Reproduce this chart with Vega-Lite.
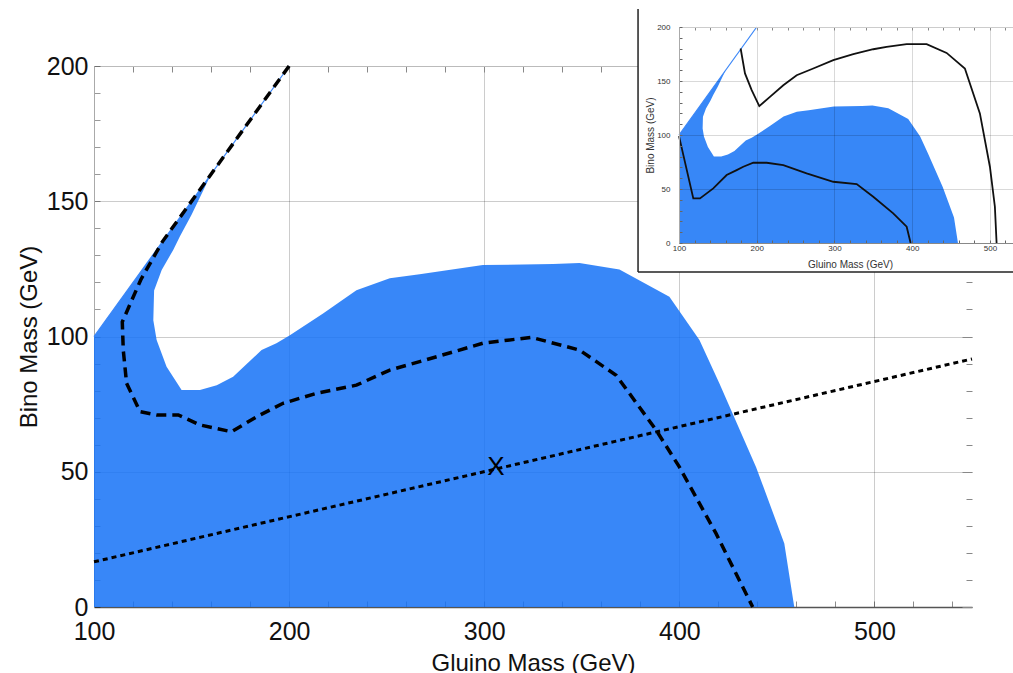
{
  "$schema": "https://vega.github.io/schema/vega-lite/v6.json",
  "width": 878,
  "height": 541,
  "autosize": {"type": "none"},
  "padding": {"left": 94, "top": 66, "right": 41, "bottom": 66},
  "background": "white",
  "config": {"view": {"stroke": null}, "font": "Liberation Sans"},
  "datasets": {
    "blue": [
      {"i": 1, "x": 100, "y": 0}, {"i": 2, "x": 100, "y": 100}, {"i": 3, "x": 160, "y": 160},
      {"i": 4, "x": 150, "y": 145}, {"i": 5, "x": 144, "y": 137}, {"i": 6, "x": 140.6, "y": 132},
      {"i": 7, "x": 134.7, "y": 124.6}, {"i": 8, "x": 130.8, "y": 117}, {"i": 9, "x": 130.4, "y": 106},
      {"i": 10, "x": 132.1, "y": 98.7}, {"i": 11, "x": 137.2, "y": 88.8}, {"i": 12, "x": 144.9, "y": 80.2},
      {"i": 13, "x": 154.3, "y": 80.2}, {"i": 14, "x": 162.9, "y": 82}, {"i": 15, "x": 171.3, "y": 85.1},
      {"i": 16, "x": 185.9, "y": 95}, {"i": 17, "x": 193.5, "y": 97.5}, {"i": 18, "x": 200.4, "y": 100.5},
      {"i": 19, "x": 217.4, "y": 108.5}, {"i": 20, "x": 234.5, "y": 117.1}, {"i": 21, "x": 251.6, "y": 121.5},
      {"i": 22, "x": 266.9, "y": 123}, {"i": 23, "x": 299.3, "y": 126.4}, {"i": 24, "x": 335.4, "y": 126.8},
      {"i": 25, "x": 348.8, "y": 127.2}, {"i": 26, "x": 369.3, "y": 124.8}, {"i": 27, "x": 394.9, "y": 114.7},
      {"i": 28, "x": 410.3, "y": 98.7}, {"i": 29, "x": 420.5, "y": 82.7}, {"i": 30, "x": 439.3, "y": 51.8},
      {"i": 31, "x": 453.8, "y": 23.5}, {"i": 32, "x": 458.9, "y": 0}
    ],
    "diag": [{"x": 100, "y": 100}, {"x": 200, "y": 200}],
    "dashed": [
      {"i": 1, "x": 200, "y": 200}, {"i": 2, "x": 135, "y": 135}, {"i": 3, "x": 124, "y": 121},
      {"i": 4, "x": 114.5, "y": 105.4}, {"i": 5, "x": 115, "y": 95}, {"i": 6, "x": 116.7, "y": 82.7},
      {"i": 7, "x": 123.6, "y": 72.2}, {"i": 8, "x": 132.1, "y": 71}, {"i": 9, "x": 143.2, "y": 71},
      {"i": 10, "x": 154.3, "y": 67.3}, {"i": 11, "x": 170.5, "y": 64.8}, {"i": 12, "x": 183.3, "y": 70.3},
      {"i": 13, "x": 196.9, "y": 75.3}, {"i": 14, "x": 214, "y": 79}, {"i": 15, "x": 234.5, "y": 82},
      {"i": 16, "x": 251.6, "y": 87.6}, {"i": 17, "x": 266.9, "y": 90.7}, {"i": 18, "x": 299.3, "y": 97.5},
      {"i": 19, "x": 324.1, "y": 99.7}, {"i": 20, "x": 348.8, "y": 95}, {"i": 21, "x": 367.6, "y": 85.7},
      {"i": 22, "x": 388.1, "y": 65.4}, {"i": 23, "x": 400, "y": 51.8}, {"i": 24, "x": 418.8, "y": 27.2},
      {"i": 25, "x": 437.6, "y": 0}
    ],
    "dotted": [{"x": 100, "y": 16.7}, {"x": 550, "y": 91.7}],
    "xmark": [{"x": 306, "y": 51.6, "label": "X"}],
    "insetUpper": [
      {"i": 1, "x": 179.3, "y": 180.1}, {"i": 2, "x": 184.9, "y": 157}, {"i": 3, "x": 193.5, "y": 141.5},
      {"i": 4, "x": 203.3, "y": 126.7}, {"i": 5, "x": 217, "y": 135.3}, {"i": 6, "x": 234.2, "y": 146.1},
      {"i": 7, "x": 251.4, "y": 155.4}, {"i": 8, "x": 272.7, "y": 161.6}, {"i": 9, "x": 298.5, "y": 169.3},
      {"i": 10, "x": 324.2, "y": 174.8}, {"i": 11, "x": 349.9, "y": 179.4}, {"i": 12, "x": 367.1, "y": 181.6},
      {"i": 13, "x": 392.9, "y": 184.1}, {"i": 14, "x": 418.6, "y": 184.1}, {"i": 15, "x": 444.3, "y": 176},
      {"i": 16, "x": 467.8, "y": 161.6}, {"i": 17, "x": 487.1, "y": 120}, {"i": 18, "x": 500, "y": 70.6},
      {"i": 19, "x": 506.4, "y": 33.6}, {"i": 20, "x": 508.6, "y": 0}
    ],
    "insetLower": [
      {"i": 1, "x": 100, "y": 99}, {"i": 2, "x": 118.4, "y": 41.3}, {"i": 3, "x": 127, "y": 41.3},
      {"i": 4, "x": 144.1, "y": 50.6}, {"i": 5, "x": 161.3, "y": 62.9}, {"i": 6, "x": 174.2, "y": 67.5},
      {"i": 7, "x": 182.7, "y": 70.6}, {"i": 8, "x": 195.6, "y": 74.3}, {"i": 9, "x": 212.8, "y": 74.3},
      {"i": 10, "x": 234.2, "y": 72.1}, {"i": 11, "x": 264.2, "y": 64.5}, {"i": 12, "x": 298.5, "y": 56.7},
      {"i": 13, "x": 328.6, "y": 54.6}, {"i": 14, "x": 349.9, "y": 42.8}, {"i": 15, "x": 375.6, "y": 27.5},
      {"i": 16, "x": 392.9, "y": 15.1}, {"i": 17, "x": 398, "y": 0}
    ],
    "one": [{}]
  },
  "layer": [
    {
      "layer": [
        {
          "data": {"name": "blue"},
          "mark": {"type": "line", "fill": "#1572F7", "fillOpacity": 0.85, "strokeWidth": 0},
          "encoding": {
            "x": {"field": "x", "type": "quantitative",
              "scale": {"domain": [100, 550], "nice": false, "zero": false},
              "axis": {"orient": "bottom", "values": [100,120,140,160,180,200,220,240,260,280,300,320,340,360,380,400,420,440,460,480,500,520,540],
                "labelExpr": "datum.value % 100 === 0 ? datum.label : ''", "labelFontSize": 25, "labelFont": "Liberation Sans", "labelColor": "#111",
                "labelPadding": 18, "labelFlush": false, "labelOverlap": false, "tickSize": -6, "tickColor": "#000", "tickOpacity": 0.45,
                "domainColor": "#555", "domainWidth": 1.5, "grid": true, "gridColor": "#000",
                "gridOpacity": {"condition": {"test": "datum.value % 100 === 0", "value": 0.2}, "value": 0},
                "title": "Gluino Mass (GeV)", "titleFontSize": 24, "titleFont": "Liberation Sans", "titleFontWeight": "normal", "titleColor": "#111", "titlePadding": 7, "zindex": 0}},
            "y": {"field": "y", "type": "quantitative",
              "scale": {"domain": [0, 200], "nice": false, "zero": false},
              "axis": {"orient": "left", "values": [0,10,20,30,40,50,60,70,80,90,100,110,120,130,140,150,160,170,180,190,200],
                "labelExpr": "datum.value % 50 === 0 ? datum.label : ''", "labelFontSize": 25, "labelFont": "Liberation Sans", "labelColor": "#111",
                "labelPadding": 12, "labelOverlap": false, "labelFlush": false, "tickSize": -6, "tickColor": "#000", "tickOpacity": 0.4,
                "domainColor": "#aaa", "domainWidth": 1, "grid": true, "gridColor": "#000",
                "gridOpacity": {"condition": {"test": "datum.value % 50 === 0", "value": 0.2}, "value": 0},
                "title": "Bino Mass (GeV)", "titleFontSize": 24, "titleFont": "Liberation Sans", "titleFontWeight": "normal", "titleColor": "#111", "titlePadding": 5, "zindex": 0}},
            "order": {"field": "i", "type": "quantitative"}
          }
        },
        {
          "data": {"name": "diag"},
          "mark": {"type": "line", "color": "#3a86f7", "strokeWidth": 1.2},
          "encoding": {
            "x": {"field": "x", "type": "quantitative", "axis": null},
            "y": {"field": "y", "type": "quantitative", "axis": null}
          }
        },
        {
          "data": {"name": "dashed"},
          "mark": {"type": "line", "color": "#000", "strokeWidth": 3.5, "strokeDash": [10, 6]},
          "encoding": {
            "x": {"field": "x", "type": "quantitative",
              "axis": {"orient": "top", "values": [100,120,140,160,180,200,220,240,260,280,300,320,340,360,380,400,420,440,460,480,500,520,540],
                "labels": false, "grid": false, "tickSize": -6, "tickColor": "#888", "domainColor": "#bbb", "title": null, "zindex": 0}},
            "y": {"field": "y", "type": "quantitative",
              "axis": {"orient": "right", "values": [0,10,20,30,40,50,60,70,80,90,100,110,120,130,140,150,160,170,180,190,200],
                "labels": false, "grid": false, "domain": false,
                "tickSize": {"condition": {"test": "datum.value % 50 === 0", "value": -10}, "value": -6},
                "tickColor": "#888", "title": null, "zindex": 0}},
            "order": {"field": "i", "type": "quantitative"}
          }
        },
        {
          "data": {"name": "dotted"},
          "mark": {"type": "line", "color": "#000", "strokeWidth": 3, "strokeDash": [5, 4]},
          "encoding": {
            "x": {"field": "x", "type": "quantitative", "axis": null},
            "y": {"field": "y", "type": "quantitative", "axis": null}
          }
        },
        {
          "data": {"name": "xmark"},
          "mark": {"type": "text", "fontSize": 26, "font": "Liberation Sans", "align": "center", "baseline": "middle", "color": "#000"},
          "encoding": {
            "x": {"field": "x", "type": "quantitative", "axis": null},
            "y": {"field": "y", "type": "quantitative", "axis": null},
            "text": {"field": "label"}
          }
        }
      ],
      "resolve": {"axis": {"x": "independent", "y": "independent"}}
    },
    {
      "layer": [
        {
          "data": {"name": "one"},
          "mark": {"type": "rect", "fill": "white", "strokeWidth": 0},
          "encoding": {
            "x": {"datum": 47.3, "type": "quantitative", "axis": null},
            "x2": {"datum": 580},
            "y": {"datum": -26.9, "type": "quantitative", "axis": null},
            "y2": {"datum": 216.7}
          }
        },
        {
          "data": {"name": "one"},
          "mark": {"type": "rule", "color": "#222", "strokeWidth": 1.5},
          "encoding": {
            "x": {"datum": 47.3, "type": "quantitative", "axis": null},
            "y": {"datum": -26.9, "type": "quantitative", "axis": null},
            "y2": {"datum": 216.7}
          }
        },
        {
          "data": {"name": "one"},
          "mark": {"type": "rule", "color": "#222", "strokeWidth": 1.5},
          "encoding": {
            "x": {"datum": 47.3, "type": "quantitative", "axis": null},
            "x2": {"datum": 580},
            "y": {"datum": -26.9, "type": "quantitative", "axis": null}
          }
        },
        {
          "data": {"name": "blue"},
          "mark": {"type": "line", "fill": "#3787F7", "strokeWidth": 0},
          "encoding": {
            "x": {"field": "x", "type": "quantitative",
              "scale": {"domain": [100, 540], "range": [585, 927], "nice": false, "zero": false},
              "axis": {"orient": "bottom", "offset": -364, "zindex": 1,
                "values": [100,120,140,160,180,200,220,240,260,280,300,320,340,360,380,400,420,440,460,480,500,520,540],
                "labelExpr": "datum.value % 100 === 0 ? datum.label : ''", "labelFontSize": 8, "labelColor": "#333", "labelPadding": 4,
                "labelFlush": false, "labelOverlap": false, "tickSize": -3, "tickColor": "#666", "domainColor": "#888", "grid": false,
                "title": "Gluino Mass (GeV)", "titleFontSize": 10, "titleFontWeight": "normal", "titleColor": "#333", "titlePadding": 7}},
            "y": {"field": "y", "type": "quantitative",
              "scale": {"domain": [0, 200], "range": [177, -39], "nice": false, "zero": false},
              "axis": {"orient": "left", "offset": -585, "zindex": 1,
                "values": [0,10,20,30,40,50,60,70,80,90,100,110,120,130,140,150,160,170,180,190,200],
                "labelExpr": "datum.value % 50 === 0 ? datum.label : ''", "labelFontSize": 8, "labelColor": "#333", "labelPadding": 12,
                "labelFlush": false, "labelOverlap": false, "tickSize": -3, "tickColor": "#666", "domainColor": "#aaa",
                "grid": true, "gridColor": "#000", "gridOpacity": {"condition": {"test": "datum.value % 50 === 0", "value": 0.15}, "value": 0},
                "title": "Bino Mass (GeV)", "titleFontSize": 10, "titleFontWeight": "normal", "titleColor": "#333", "titlePadding": 1}},
            "order": {"field": "i", "type": "quantitative"}
          }
        },
        {
          "data": {"name": "diag"},
          "mark": {"type": "line", "color": "#3a86f7", "strokeWidth": 1.2},
          "encoding": {
            "x": {"field": "x", "type": "quantitative", "axis": null},
            "y": {"field": "y", "type": "quantitative", "axis": null}
          }
        },
        {
          "data": {"name": "insetUpper"},
          "mark": {"type": "line", "color": "#111", "strokeWidth": 1.8},
          "encoding": {
            "x": {"field": "x", "type": "quantitative",
              "axis": {"orient": "top", "offset": 39, "zindex": 1,
                "values": [100,120,140,160,180,200,220,240,260,280,300,320,340,360,380,400,420,440,460,480,500,520,540],
                "labels": false, "tickSize": -3, "tickColor": "#888", "domainColor": "#ccc",
                "grid": true, "gridColor": "#000", "gridOpacity": {"condition": {"test": "datum.value % 100 === 0", "value": 0.15}, "value": 0},
                "title": null}},
            "y": {"field": "y", "type": "quantitative", "axis": null},
            "order": {"field": "i", "type": "quantitative"}
          }
        },
        {
          "data": {"name": "insetLower"},
          "mark": {"type": "line", "color": "#111", "strokeWidth": 1.8},
          "encoding": {
            "x": {"field": "x", "type": "quantitative", "axis": null},
            "y": {"field": "y", "type": "quantitative", "axis": null},
            "order": {"field": "i", "type": "quantitative"}
          }
        }
      ],
      "resolve": {"axis": {"x": "independent", "y": "independent"}}
    }
  ],
  "resolve": {
    "scale": {"x": "independent", "y": "independent"},
    "axis": {"x": "independent", "y": "independent"}
  }
}
